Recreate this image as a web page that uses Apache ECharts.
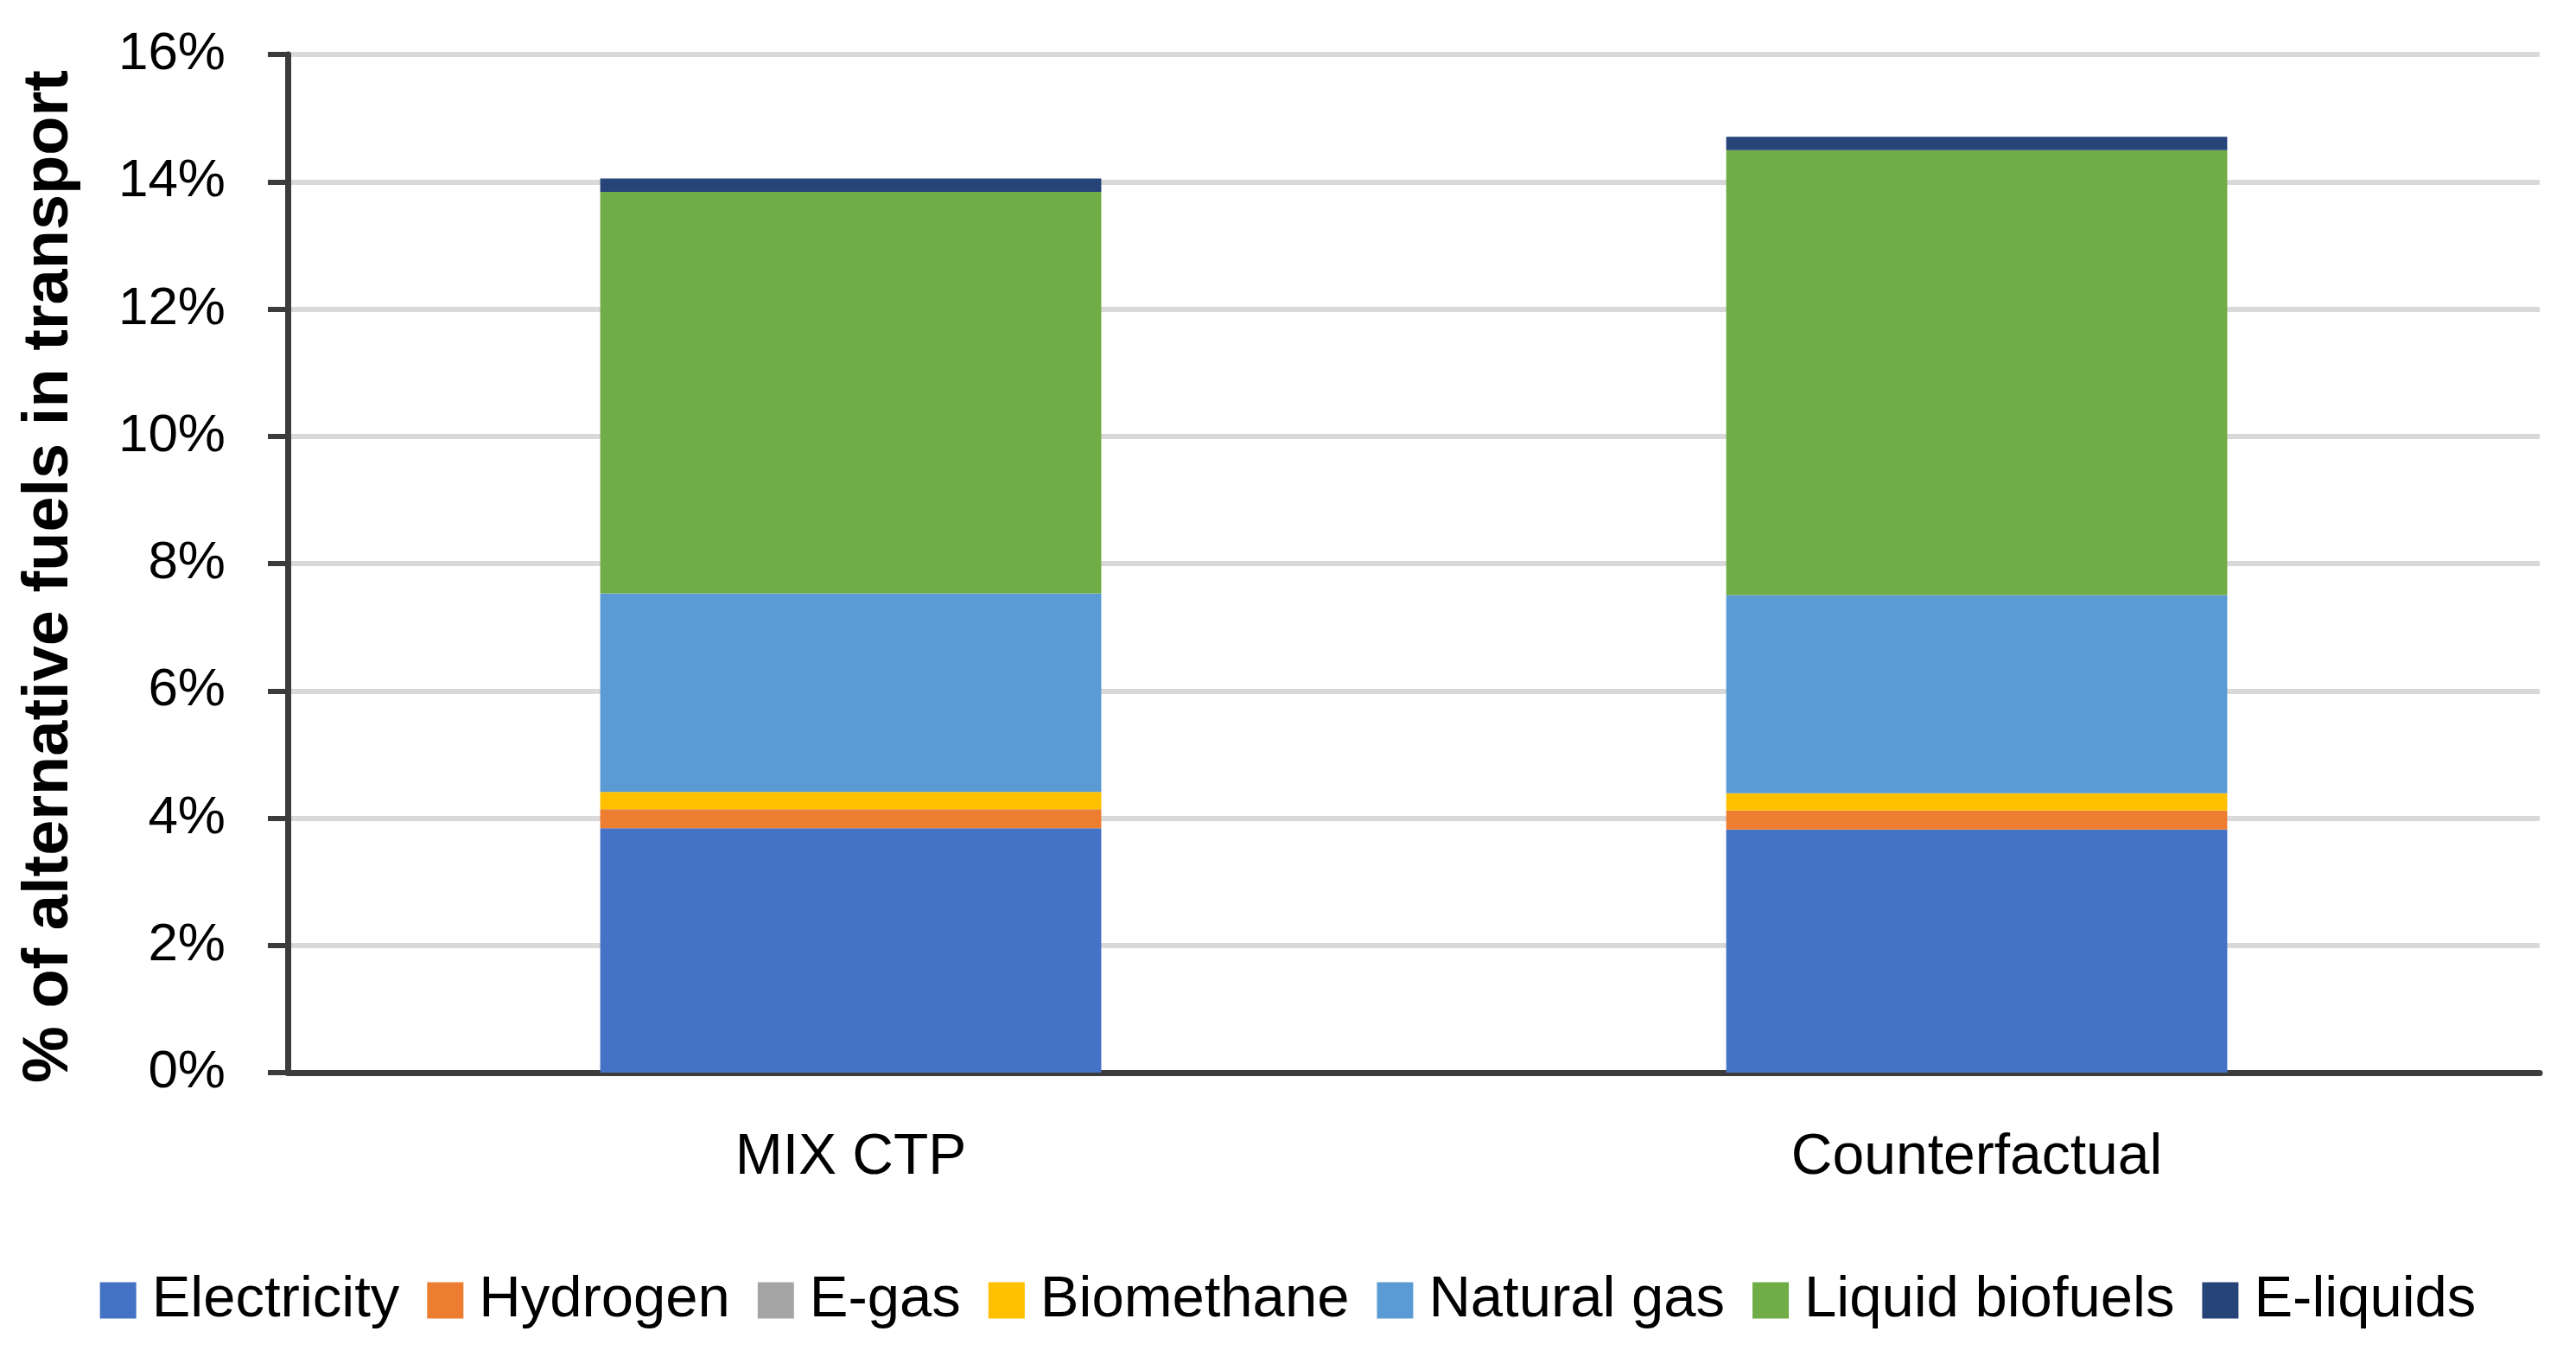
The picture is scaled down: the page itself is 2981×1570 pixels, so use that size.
<!DOCTYPE html>
<html>
<head>
<meta charset="utf-8">
<script src="https://cdn.jsdelivr.net/npm/echarts@6/dist/echarts.min.js"></script>
<style>
html,body{margin:0;padding:0;background:#fff;}
#chart{width:2981px;height:1570px;}
</style>
</head>
<body>
<div id="chart"></div>
<script>
var categories = ['MIX CTP', 'Counterfactual'];
var electricity = [3.84, 3.82];
var hydrogen = [0.30, 0.30];
var eGas = [0, 0];
var biomethane = [0.27, 0.27];
var naturalGas = [3.12, 3.115];
var liquidBiofuels = [6.31, 6.99];
var eLiquids = [0.21, 0.21];
var yTicks = [0, 2, 4, 6, 8, 10, 12, 14, 16];

var seriesNames = ['Electricity', 'Hydrogen', 'E-gas', 'Biomethane', 'Natural gas', 'Liquid biofuels', 'E-liquids'];
var seriesData = [electricity, hydrogen, eGas, biomethane, naturalGas, liquidBiofuels, eLiquids];
var colors = ['#4472C4', '#ED7D31', '#A5A5A5', '#FFC000', '#5B9BD5', '#70AD47', '#264478'];

var FONT = '"Liberation Sans", Arial, sans-serif';

var chart = echarts.init(document.getElementById('chart'));
chart.setOption({
  animation: false,
  backgroundColor: '#ffffff',
  color: colors,
  grid: { left: 333, right: 42, top: 63, bottom: 329, containLabel: false },
  legend: {
    data: seriesNames,
    left: 'center',
    top: 1466,
    itemWidth: 42,
    itemHeight: 42,
    itemGap: 32,
    icon: 'rect',
    textStyle: { fontFamily: FONT, fontSize: 67, color: '#000', padding: [0, 0, 0, 13] }
  },
  xAxis: {
    type: 'category',
    data: categories,
    axisLine: { show: true, lineStyle: { color: '#3c3c3c', width: 7 } },
    axisTick: { show: false },
    axisLabel: { fontFamily: FONT, fontSize: 66, color: '#000', margin: 66 },
    splitLine: { show: false }
  },
  yAxis: {
    type: 'value',
    min: yTicks[0],
    max: yTicks[yTicks.length - 1],
    interval: 2,
    name: '% of alternative fuels in transport',
    nameLocation: 'middle',
    nameRotate: 90,
    nameGap: 238,
    nameTextStyle: { fontFamily: FONT, fontSize: 74, fontWeight: 'bold', color: '#000', padding: [0, 30, 0, 0] },
    axisLine: { show: true, lineStyle: { color: '#3c3c3c', width: 7 } },
    axisTick: { show: true, length: 23, lineStyle: { color: '#3c3c3c', width: 6 } },
    axisLabel: { fontFamily: FONT, fontSize: 62, color: '#000', margin: 72, formatter: '{value}%' },
    splitLine: { show: true, lineStyle: { color: '#d9d9d9', width: 6 } }
  },
  series: seriesNames.map(function (n, i) {
    return {
      name: n,
      type: 'bar',
      stack: 'total',
      barWidth: '44.5%',
      data: seriesData[i],
      itemStyle: { color: colors[i] }
    };
  })
});
</script>
</body>
</html>
